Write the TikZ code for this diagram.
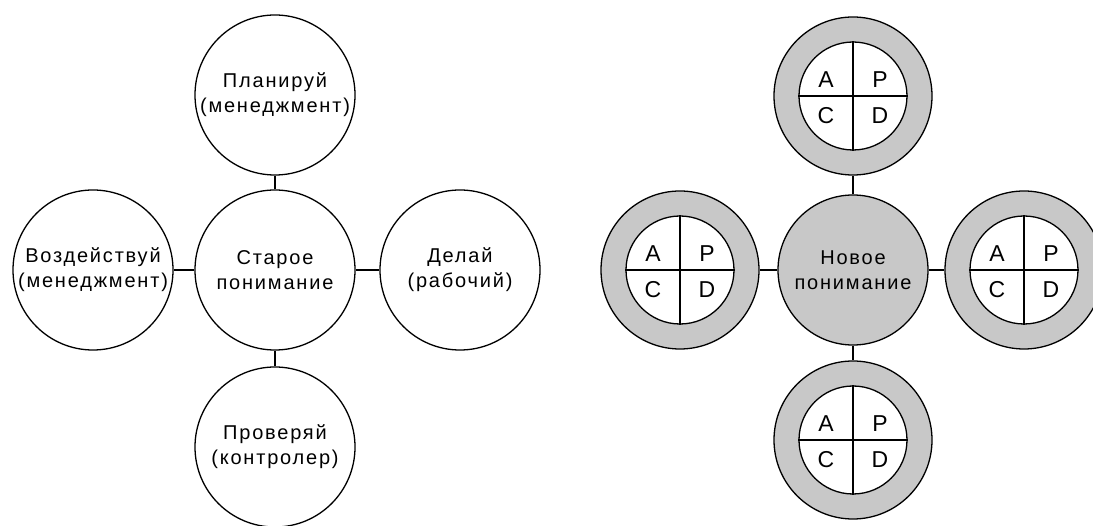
\documentclass[tikz,border=0pt]{standalone}
\usepackage{fontspec}
\setmainfont{Liberation Sans}
\newfontfamily\lbl[LetterSpace=9]{Liberation Sans}
\newfontfamily\pdcafont[LetterSpace=0]{Liberation Sans}
\definecolor{ringgray}{RGB}{200,200,200}
\begin{document}
\begin{tikzpicture}[x=1pt,y=-1pt,
  circ/.style={circle,draw,line width=1.3pt,minimum size=160pt,inner sep=0pt,align=center,font=\lbl\fontsize{20}{25}\selectfont},
  center/.style={circ,fill=ringgray,minimum size=150pt},
  ring/.style={circle,draw,line width=1.3pt,minimum size=158pt,inner sep=0pt,fill=ringgray},
  innerc/.style={circle,draw,line width=1.3pt,minimum size=108pt,inner sep=0pt,fill=white},
  conn/.style={line width=1.3pt},
  pdca/.style={font=\pdcafont\fontsize{23}{23}\selectfont,inner sep=0pt}]
\useasboundingbox (0,0) rectangle (1093,526);

% left diagram
\node[circ] (old) at (275,270) {Старое\\понимание};
\node[circ] (plan) at (275,95) {Планируй\\(менеджмент)};
\node[circ] (act) at (93,270) {Воздействуй\\(менеджмент)};
\node[circ] (do) at (460,270) {Делай\\(рабочий)};
\node[circ] (check) at (275,447) {Проверяй\\(контролер)};
\draw[conn] (old) -- (plan);
\draw[conn] (old) -- (act);
\draw[conn] (old) -- (do);
\draw[conn] (old) -- (check);

% right diagram
\node[center] (new) at (853,270) {Новое\\понимание};
\foreach \n/\x/\y in {rt/853/96, rl/680/270, rr/1024/270, rb/853/440} {
  \node[ring] (\n) at (\x,\y) {};
  \node[innerc] (\n i) at (\x,\y) {};
  \draw[conn] (\n i.north) -- (\n i.south);
  \draw[conn] (\n i.west) -- (\n i.east);
  \node[pdca] (\n A) at (\x-27,\y-16) {A};
  \node[pdca] (\n P) at (\x+27,\y-16) {P};
  \node[pdca] (\n C) at (\x-27,\y+20) {C};
  \node[pdca] (\n D) at (\x+27,\y+20) {D};
}
\draw[conn] (new) -- (rt);
\draw[conn] (new) -- (rl);
\draw[conn] (new) -- (rr);
\draw[conn] (new) -- (rb);
\end{tikzpicture}
\end{document}
